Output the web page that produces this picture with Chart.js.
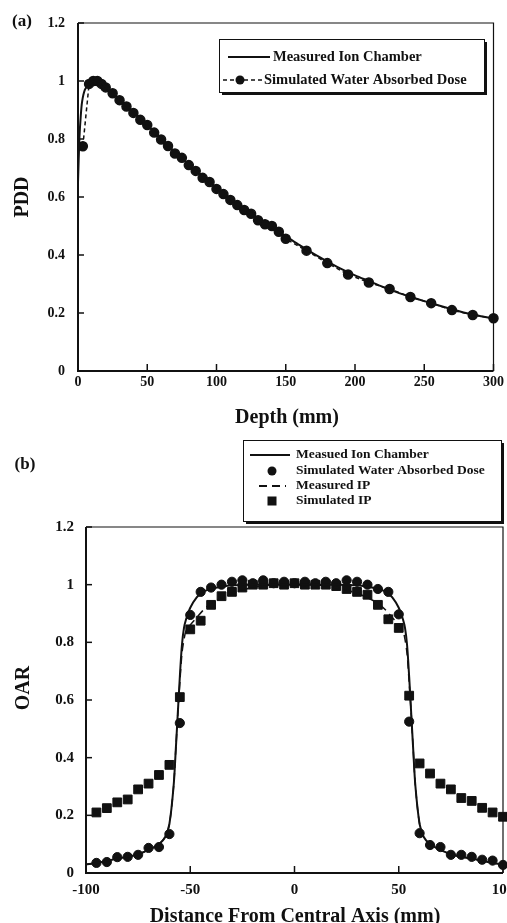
<!DOCTYPE html>
<html>
<head>
<meta charset="utf-8">
<script src="https://cdn.jsdelivr.net/npm/chart.js@4/dist/chart.umd.min.js"></script>
<style>
  html, body { margin: 0; padding: 0; background: #fff; }
  body { width: 507px; height: 923px; position: relative; overflow: hidden; }
  #wrapA { position: absolute; left: 0; top: 0; width: 507px; height: 440px; }
  #wrapB { position: absolute; left: 0; top: 430px; width: 530px; height: 493px; }
</style>
</head>
<body>
<div id="wrapA"><canvas id="pdd" width="507" height="440"></canvas></div>
<div id="wrapB"><canvas id="oar" width="530" height="493"></canvas></div>
<script>
// ---- (a) PDD data ----
const pddDepthMeasured = [0, 1, 2, 3, 5, 8, 12, 16, 20, 30, 40, 50, 60, 70, 80, 90, 100, 110, 120, 130, 140, 150, 160, 170, 180, 190, 200, 210, 220, 230, 240, 250, 260, 270, 280, 290, 300];
const pddMeasured = [0.65, 0.8, 0.88, 0.93, 0.97, 0.99, 1.0, 0.997, 0.98, 0.937, 0.893, 0.848, 0.8, 0.755, 0.712, 0.672, 0.632, 0.595, 0.56, 0.527, 0.495, 0.465, 0.434, 0.405, 0.378, 0.352, 0.33, 0.31, 0.29, 0.272, 0.256, 0.241, 0.227, 0.213, 0.2, 0.19, 0.181];
const pddDepthSim = [3.5, 8, 11, 14, 17, 20, 25, 30, 35, 40, 45, 50, 55, 60, 65, 70, 75, 80, 85, 90, 95, 100, 105, 110, 115, 120, 125, 130, 135, 140, 145, 150, 165, 180, 195, 210, 225, 240, 255, 270, 285, 300];
const pddSim = [0.775, 0.99, 1.0, 1.0, 0.99, 0.978, 0.958, 0.934, 0.912, 0.89, 0.866, 0.848, 0.822, 0.798, 0.776, 0.75, 0.735, 0.71, 0.69, 0.666, 0.652, 0.628, 0.61, 0.59, 0.572, 0.555, 0.542, 0.52, 0.506, 0.5, 0.48, 0.456, 0.415, 0.372, 0.333, 0.305, 0.283, 0.255, 0.234, 0.21, 0.193, 0.182];
const pddXTicks = [0, 50, 100, 150, 200, 250, 300];

// ---- (b) OAR data ----
const oarPosMeasured = [-100, -95, -90, -85, -80, -75, -70, -65, -62, -60, -58, -57, -56, -55, -54, -53, -52, -50, -47, -44, -40, -35, -30, -20, -10, 0, 10, 20, 30, 35, 40, 44, 47, 50, 52, 53, 54, 55, 56, 57, 58, 60, 62, 65, 70, 75, 80, 85, 90, 95, 100];
const oarIonChamber = [0.03, 0.035, 0.042, 0.05, 0.056, 0.065, 0.08, 0.1, 0.125, 0.17, 0.3, 0.42, 0.55, 0.68, 0.79, 0.85, 0.88, 0.92, 0.955, 0.975, 0.985, 0.993, 0.998, 1.0, 1.0, 1.0, 1.0, 1.0, 0.998, 0.993, 0.985, 0.975, 0.955, 0.92, 0.88, 0.85, 0.79, 0.68, 0.55, 0.42, 0.3, 0.17, 0.125, 0.1, 0.08, 0.065, 0.056, 0.05, 0.042, 0.035, 0.03];
const oarMeasuredIP = [0.03, 0.035, 0.042, 0.05, 0.056, 0.065, 0.08, 0.1, 0.125, 0.17, 0.3, 0.42, 0.55, 0.66, 0.76, 0.81, 0.84, 0.86, 0.885, 0.91, 0.935, 0.955, 0.97, 0.99, 1.0, 1.0, 1.0, 0.99, 0.97, 0.955, 0.935, 0.91, 0.885, 0.86, 0.84, 0.81, 0.76, 0.66, 0.55, 0.42, 0.3, 0.17, 0.125, 0.1, 0.08, 0.065, 0.056, 0.05, 0.042, 0.035, 0.03];
const oarPosSim = [-95, -90, -85, -80, -75, -70, -65, -60, -55, -50, -45, -40, -35, -30, -25, -20, -15, -10, -5, 0, 5, 10, 15, 20, 25, 30, 35, 40, 45, 50, 55, 60, 65, 70, 75, 80, 85, 90, 95, 100];
const oarSimWater = [0.035, 0.038, 0.055, 0.056, 0.063, 0.087, 0.09, 0.135, 0.52, 0.895, 0.975, 0.99, 1.0, 1.01, 1.015, 1.005, 1.015, 1.005, 1.01, 1.005, 1.01, 1.005, 1.01, 1.005, 1.015, 1.01, 1.0, 0.985, 0.975, 0.897, 0.525, 0.138, 0.097, 0.09, 0.063, 0.063, 0.056, 0.046, 0.043, 0.028];
const oarSimIP = [0.21, 0.225, 0.245, 0.255, 0.29, 0.31, 0.34, 0.375, 0.61, 0.845, 0.875, 0.93, 0.96, 0.975, 0.99, 1.0, 1.0, 1.005, 1.0, 1.005, 1.0, 1.0, 1.0, 0.995, 0.985, 0.975, 0.965, 0.93, 0.88, 0.85, 0.615, 0.38, 0.345, 0.31, 0.29, 0.26, 0.25, 0.226, 0.21, 0.195];
const oarXTicks = [-100, -50, 0, 50, 100];

const SERIF = '"Liberation Serif", "Times New Roman", serif';
const INK = '#111';

function pts(xs, ys) {
  return xs.map((x, i) => ({ x: x, y: ys[i] }));
}

function fmt(v) {
  return String(+(+v).toFixed(1));
}

// frame box + inward tick marks
function drawFrame(chart) {
  const ctx = chart.ctx, a = chart.chartArea;
  const sx = chart.scales.x, sy = chart.scales.y;
  ctx.save();
  ctx.strokeStyle = INK;
  ctx.lineWidth = 1.2;
  ctx.beginPath();
  ctx.moveTo(a.left, a.top); ctx.lineTo(a.right, a.top); ctx.lineTo(a.right, a.bottom);
  ctx.stroke();
  ctx.lineWidth = 2;
  ctx.beginPath();
  ctx.moveTo(a.left, a.top); ctx.lineTo(a.left, a.bottom); ctx.lineTo(a.right, a.bottom);
  ctx.stroke();
  ctx.lineWidth = 1.5;
  sx.ticks.forEach(t => {
    const px = sx.getPixelForValue(t.value);
    ctx.beginPath(); ctx.moveTo(px, a.bottom); ctx.lineTo(px, a.bottom - 7); ctx.stroke();
  });
  sy.ticks.forEach(t => {
    const py = sy.getPixelForValue(t.value);
    ctx.beginPath(); ctx.moveTo(a.left, py); ctx.lineTo(a.left + 6, py); ctx.stroke();
  });
  ctx.restore();
}

function drawText(ctx, text, x, y, size, rot) {
  ctx.save();
  ctx.fillStyle = INK;
  ctx.font = 'bold ' + size + 'px ' + SERIF;
  ctx.textAlign = 'center';
  ctx.textBaseline = 'middle';
  ctx.translate(x, y);
  if (rot) ctx.rotate(rot);
  ctx.fillText(text, 0, 0);
  ctx.restore();
}

function drawLegendBox(ctx, x0, y0, x1, y1) {
  ctx.save();
  ctx.fillStyle = INK;
  ctx.fillRect(x0 + 3, y0 + 3, x1 - x0, y1 - y0);
  ctx.fillStyle = '#fff';
  ctx.fillRect(x0, y0, x1 - x0, y1 - y0);
  ctx.strokeStyle = INK;
  ctx.lineWidth = 1;
  ctx.strokeRect(x0 + 0.5, y0 + 0.5, x1 - x0, y1 - y0);
  ctx.restore();
}

function legendLine(ctx, x0, x1, y, dash, width) {
  ctx.save();
  ctx.strokeStyle = INK;
  ctx.lineWidth = width;
  ctx.setLineDash(dash);
  ctx.beginPath(); ctx.moveTo(x0, y); ctx.lineTo(x1, y); ctx.stroke();
  ctx.restore();
}

function legendMark(ctx, x, y, kind) {
  ctx.save();
  ctx.fillStyle = INK;
  if (kind === 'circle') {
    ctx.beginPath(); ctx.arc(x, y, 4.5, 0, Math.PI * 2); ctx.fill();
  } else {
    ctx.fillRect(x - 4.5, y - 4.5, 9, 9);
  }
  ctx.restore();
}

function legendText(ctx, text, x, y, size) {
  ctx.save();
  ctx.fillStyle = INK;
  ctx.font = 'bold ' + size + 'px ' + SERIF;
  ctx.textAlign = 'left';
  ctx.textBaseline = 'middle';
  ctx.fillText(text, x, y);
  ctx.restore();
}

const pddDeco = {
  id: 'pddDeco',
  afterDraw(chart) {
    const ctx = chart.ctx;
    drawFrame(chart);
    drawText(ctx, '(a)', 22, 22, 17);
    drawText(ctx, 'Depth (mm)', 287, 418, 20);
    drawText(ctx, 'PDD', 23, 197, 20, -Math.PI / 2);
    drawLegendBox(ctx, 219, 39, 484, 92);
    legendLine(ctx, 228, 270, 57, [], 2);
    legendText(ctx, 'Measured Ion Chamber', 273, 57, 14.5);
    legendLine(ctx, 223, 262, 80, [4, 3], 1.5);
    legendMark(ctx, 240, 80, 'circle');
    legendText(ctx, 'Simulated Water Absorbed Dose', 264, 80, 14.5);
  }
};

const oarDeco = {
  id: 'oarDeco',
  afterDraw(chart) {
    const ctx = chart.ctx;
    drawFrame(chart);
    drawText(ctx, '(b)', 25, 35, 17);
    drawText(ctx, 'Distance From Central Axis (mm)', 295, 487, 20);
    drawText(ctx, 'OAR', 24, 258, 20, -Math.PI / 2);
    drawLegendBox(ctx, 243, 10, 501, 91);
    legendLine(ctx, 250, 290, 25, [], 2);
    legendText(ctx, 'Measued Ion Chamber', 296, 25, 13.5);
    legendMark(ctx, 272, 41, 'circle');
    legendText(ctx, 'Simulated Water Absorbed Dose', 296, 41, 13.5);
    legendLine(ctx, 259, 286, 56, [8, 5], 2);
    legendText(ctx, 'Measured IP', 296, 56, 13.5);
    legendMark(ctx, 272, 71, 'square');
    legendText(ctx, 'Simulated IP', 296, 71, 13.5);
  }
};

function axisX(min, max, tickVals, size, pad) {
  return {
    type: 'linear', min: min, max: max,
    afterBuildTicks: s => { s.ticks = tickVals.map(v => ({ value: v })); },
    afterFit: s => { s.height = 30; },
    grid: { display: false, drawTicks: false },
    border: { display: false },
    ticks: { color: INK, padding: pad, maxRotation: 0, font: { family: SERIF, weight: 'bold', size: size }, callback: v => fmt(v) }
  };
}

function axisY(width, size, pad) {
  return {
    type: 'linear', min: 0, max: 1.2,
    ticks: { stepSize: 0.2, color: INK, padding: pad, font: { family: SERIF, weight: 'bold', size: size }, callback: v => fmt(v) },
    afterFit: s => { s.width = width; },
    grid: { display: false, drawTicks: false },
    border: { display: false }
  };
}

new Chart(document.getElementById('pdd'), {
  type: 'scatter',
  data: {
    datasets: [
      { label: 'Measured Ion Chamber', data: pts(pddDepthMeasured, pddMeasured), showLine: true, borderColor: INK, borderWidth: 2, pointRadius: 0, tension: 0.3, clip: false },
      { label: 'Simulated Water Absorbed Dose', data: pts(pddDepthSim, pddSim), showLine: true, borderColor: INK, borderWidth: 1.5, borderDash: [4, 3], backgroundColor: INK, pointBackgroundColor: INK, pointBorderColor: INK, pointRadius: 4.5, clip: false }
    ]
  },
  options: {
    responsive: false,
    animation: false,
    layout: { padding: { left: 0, right: 12, top: 23, bottom: 39 } },
    plugins: { legend: { display: false }, tooltip: { enabled: false } },
    scales: {
      x: axisX(0, 300, pddXTicks, 14, 3),
      y: axisY(78, 14, 13)
    }
  },
  plugins: [pddDeco]
});

new Chart(document.getElementById('oar'), {
  type: 'scatter',
  data: {
    datasets: [
      { label: 'Measued Ion Chamber', data: pts(oarPosMeasured, oarIonChamber), showLine: true, borderColor: INK, borderWidth: 2, pointRadius: 0, tension: 0.3, clip: false },
      { label: 'Measured IP', data: pts(oarPosMeasured, oarMeasuredIP), showLine: true, borderColor: INK, borderWidth: 1.5, borderDash: [8, 5], pointRadius: 0, tension: 0.3, clip: false },
      { label: 'Simulated Water Absorbed Dose', data: pts(oarPosSim, oarSimWater), showLine: false, pointStyle: 'circle', pointRadius: 4.6, pointBackgroundColor: INK, pointBorderColor: INK, clip: false },
      { label: 'Simulated IP', data: pts(oarPosSim, oarSimIP), showLine: false, pointStyle: 'rect', pointRadius: 6.2, pointBackgroundColor: INK, pointBorderColor: INK, clip: false }
    ]
  },
  options: {
    responsive: false,
    animation: false,
    layout: { padding: { left: 0, right: 27, top: 97, bottom: 20 } },
    plugins: { legend: { display: false }, tooltip: { enabled: false } },
    scales: {
      x: axisX(-100, 100, oarXTicks, 15, 8),
      y: axisY(86, 15, 12)
    }
  },
  plugins: [oarDeco]
});
</script>
</body>
</html>
